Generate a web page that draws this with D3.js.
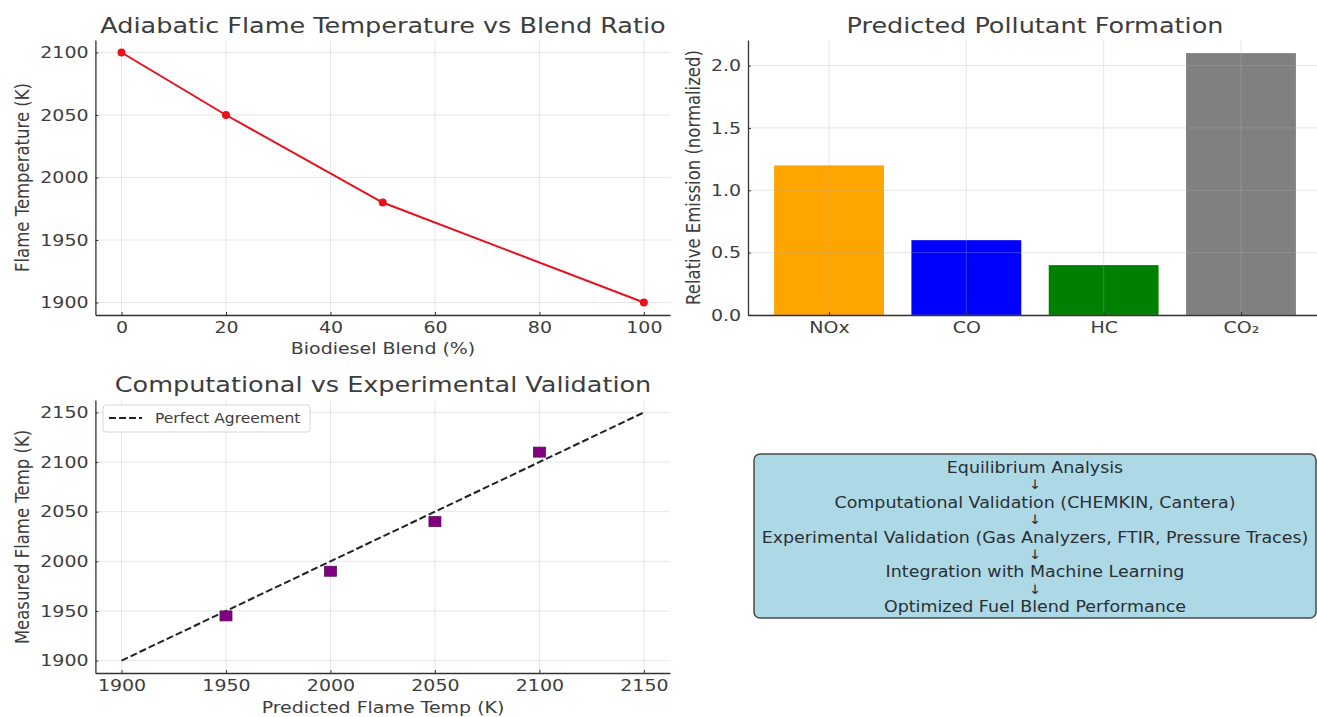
<!DOCTYPE html>
<html>
<head>
<meta charset="utf-8">
<script src="https://cdnjs.cloudflare.com/ajax/libs/d3/7.8.5/d3.min.js"></script>
<style>
  body { margin: 0; background: #fff; }
  svg text { font-family: "DejaVu Sans", sans-serif; fill: #3d3d3d; }
</style>
</head>
<body>
<div id="canvas"></div>
<script>
// ---- data ----
var blendPct = [0, 20, 50, 100];
var flameTemp = [2100, 2050, 1980, 1900];
var blendTicks = [0, 20, 40, 60, 80, 100];
var flameTicks = [1900, 1950, 2000, 2050, 2100];

var pollutants = ["NOx", "CO", "HC", "CO\u2082"];
var emission = [1.2, 0.6, 0.4, 2.1];
var barColors = ["#ffa500", "#0000ff", "#008000", "#808080"];
var emissionTicks = [0.0, 0.5, 1.0, 1.5, 2.0];

var predictedTemp = [1950, 2000, 2050, 2100];
var measuredTemp = [1945, 1990, 2040, 2110];
var agreementLine = [1900, 2150];
var validTicks = [1900, 1950, 2000, 2050, 2100, 2150];

var workflowSteps = [
  "Equilibrium Analysis",
  "Computational Validation (CHEMKIN, Cantera)",
  "Experimental Validation (Gas Analyzers, FTIR, Pressure Traces)",
  "Integration with Machine Learning",
  "Optimized Fuel Blend Performance"
];

var STRETCH = 1.15; // reference text is wider than it is tall

var ChartUtil = {
  svg: null,

  init: function() {
    ChartUtil.svg = d3.select("#canvas").append("svg")
      .attr("width", 1317)
      .attr("height", 717);
    ChartUtil.svg.append("rect")
      .attr("width", 1317).attr("height", 717).attr("fill", "#fff");

    ChartUtil.drawFlameTemp();
    ChartUtil.drawPollutants();
    ChartUtil.drawValidation();
    ChartUtil.drawWorkflow();
  },

  // text placed by transform so it can be stretched horizontally
  label: function(g, x, y, str, size, rotate, stretch) {
    var s = stretch || STRETCH;
    var t = g.append("text")
      .attr("font-size", size)
      .attr("text-anchor", "middle")
      .text(str);
    if (rotate) {
      t.attr("transform", "translate(" + x + "," + y + ") rotate(-90) scale(1," + s + ")");
    } else {
      t.attr("transform", "translate(" + x + "," + y + ") scale(" + s + ",1)");
    }
    return t;
  },

  // light grid, spines with inward ticks, tick labels
  frame: function(g, x, y, xTicks, yTicks, xFmt, yFmt) {
    var x0 = x.range()[0], x1 = x.range()[1];
    var y0 = y.range()[0], y1 = y.range()[1];

    var grid = g.append("g")
      .attr("stroke", "#b0b0b0")
      .attr("stroke-opacity", 0.3)
      .attr("stroke-width", 1);
    grid.selectAll(".gx")
      .data(xTicks)
      .enter().append("line")
      .attr("x1", function(d) { return x(d); })
      .attr("x2", function(d) { return x(d); })
      .attr("y1", y0).attr("y2", y1);
    grid.selectAll(".gy")
      .data(yTicks)
      .enter().append("line")
      .attr("y1", function(d) { return y(d); })
      .attr("y2", function(d) { return y(d); })
      .attr("x1", x0).attr("x2", x1);

    var xAxis = g.append("g")
      .attr("transform", "translate(0," + y0 + ")")
      .call(d3.axisBottom(x).tickValues(xTicks).tickFormat(xFmt).tickSize(-3).tickPadding(6).tickSizeOuter(0));
    var yAxis = g.append("g")
      .attr("transform", "translate(" + x0 + ",0)")
      .call(d3.axisLeft(y).tickValues(yTicks).tickFormat(yFmt).tickSize(-3).tickPadding(6).tickSizeOuter(0));

    [xAxis, yAxis].forEach(function(a) {
      a.select(".domain").attr("stroke", "#333").attr("stroke-width", 1.3);
      a.selectAll(".tick line").attr("stroke", "#333");
      a.selectAll(".tick text")
        .attr("font-size", 16.5)
        .attr("font-family", "DejaVu Sans")
        .attr("fill", "#3d3d3d")
        .attr("transform", "scale(" + STRETCH + ",1)");
    });
  },

  drawFlameTemp: function() {
    var g = ChartUtil.svg.append("g");
    var x = d3.scaleLinear().domain([-5, 105]).range([95.4, 670]);
    var y = d3.scaleLinear().domain([1890, 2110]).range([315, 40]);

    ChartUtil.frame(g, x, y, blendTicks, flameTicks, d3.format("d"), d3.format("d"));

    var pts = blendPct.map(function(d, i) { return [d, flameTemp[i]]; });
    g.append("path")
      .datum(pts)
      .attr("fill", "none")
      .attr("stroke", "#e8101c")
      .attr("stroke-width", 2)
      .attr("d", d3.line()
        .x(function(d) { return x(d[0]); })
        .y(function(d) { return y(d[1]); }));
    g.selectAll(".dot")
      .data(pts)
      .enter().append("circle")
      .attr("cx", function(d) { return x(d[0]); })
      .attr("cy", function(d) { return y(d[1]); })
      .attr("r", 4)
      .attr("fill", "#e8101c");

    ChartUtil.label(g, 383, 32.5, "Adiabatic Flame Temperature vs Blend Ratio", 22, false, 1.16);
    ChartUtil.label(g, 383, 354, "Biodiesel Blend (%)", 16.5);
    ChartUtil.label(g, 29, 177.5, "Flame Temperature (K)", 16.5, true);
  },

  drawPollutants: function() {
    var g = ChartUtil.svg.append("g");
    var x = d3.scaleLinear().domain([-0.59, 3.59]).range([748, 1322]);
    var y = d3.scaleLinear().domain([0, 2.205]).range([315, 40]);
    var idx = pollutants.map(function(d, i) { return i; });

    // bars first, the faint grid shows over them
    g.selectAll(".bar")
      .data(idx)
      .enter().append("rect")
      .attr("class", "bar")
      .attr("x", function(i) { return x(i - 0.4); })
      .attr("width", function(i) { return x(i + 0.4) - x(i - 0.4); })
      .attr("y", function(i) { return y(emission[i]); })
      .attr("height", function(i) { return y(0) - y(emission[i]); })
      .attr("fill", function(i) { return barColors[i]; });

    ChartUtil.frame(g, x, y, idx, emissionTicks,
      function(i) { return pollutants[i]; }, d3.format(".1f"));

    ChartUtil.label(g, 1035, 32.5, "Predicted Pollutant Formation", 22, false, 1.16);
    ChartUtil.label(g, 700, 177.5, "Relative Emission (normalized)", 16.5, true);
  },

  drawValidation: function() {
    var g = ChartUtil.svg.append("g");
    var x = d3.scaleLinear().domain([1887.5, 2162.5]).range([95.4, 670]);
    var y = d3.scaleLinear().domain([1887.5, 2162.5]).range([673, 400]);

    ChartUtil.frame(g, x, y, validTicks, validTicks, d3.format("d"), d3.format("d"));

    g.append("line")
      .attr("x1", x(agreementLine[0])).attr("y1", y(agreementLine[0]))
      .attr("x2", x(agreementLine[1])).attr("y2", y(agreementLine[1]))
      .attr("stroke", "#222")
      .attr("stroke-width", 2)
      .attr("stroke-dasharray", "7,3");

    g.selectAll(".sq")
      .data(predictedTemp)
      .enter().append("rect")
      .attr("x", function(d) { return x(d) - 6; })
      .attr("y", function(d, i) { return y(measuredTemp[i]) - 5; })
      .attr("width", 12)
      .attr("height", 10)
      .attr("fill", "#800080")
      .attr("stroke", "#5a1060")
      .attr("stroke-width", 0.8);

    // legend
    var lg = g.append("g");
    lg.append("rect")
      .attr("x", 103).attr("y", 405).attr("width", 207).attr("height", 27)
      .attr("rx", 3)
      .attr("fill", "#fff").attr("fill-opacity", 0.85)
      .attr("stroke", "#d6d6d6");
    lg.append("line")
      .attr("x1", 109).attr("x2", 142).attr("y1", 418).attr("y2", 418)
      .attr("stroke", "#222").attr("stroke-width", 2)
      .attr("stroke-dasharray", "7,3");
    lg.append("text")
      .attr("font-size", 13.5)
      .attr("transform", "translate(155,423) scale(" + STRETCH + ",1)")
      .text("Perfect Agreement");

    ChartUtil.label(g, 383, 391.5, "Computational vs Experimental Validation", 22, false, 1.16);
    ChartUtil.label(g, 383, 713, "Predicted Flame Temp (K)", 16.5);
    ChartUtil.label(g, 29, 537, "Measured Flame Temp (K)", 16.5, true);
  },

  drawWorkflow: function() {
    var g = ChartUtil.svg.append("g");
    g.append("rect")
      .attr("x", 754).attr("y", 454)
      .attr("width", 562).attr("height", 164)
      .attr("rx", 6)
      .attr("fill", "#add8e6")
      .attr("stroke", "#4a4a4a")
      .attr("stroke-width", 1.5);

    var lines = [];
    workflowSteps.forEach(function(s, i) {
      if (i > 0) lines.push({ text: "\u2193", arrow: true });
      lines.push({ text: s, arrow: false });
    });
    lines.forEach(function(l, i) {
      var t = ChartUtil.label(g, 1035, 473 + 17.4 * i + (l.arrow ? -1 : 0), l.text, l.arrow ? 13 : 15.2);
      t.style("fill", "#2a2f33");
    });
  }
};

ChartUtil.init();
</script>
</body>
</html>
